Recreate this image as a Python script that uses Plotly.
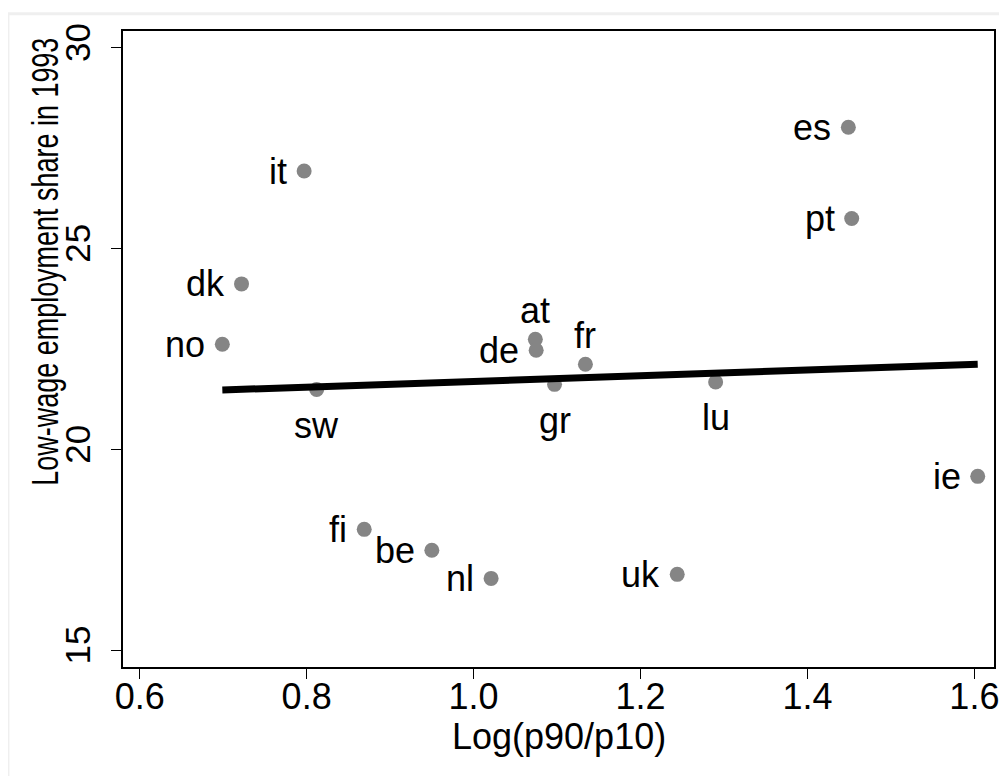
import plotly.graph_objects as go

# ---- data ----
countries = ["it", "dk", "no", "sw", "at", "de", "fr", "gr", "lu",
             "fi", "be", "nl", "uk", "es", "pt", "ie"]
log_p90_p10 = [0.797, 0.722, 0.699, 0.812, 1.074, 1.075, 1.134, 1.097, 1.290,
               0.869, 0.950, 1.021, 1.244, 1.449, 1.453, 1.604]
low_wage_share = [26.93, 24.12, 22.62, 21.49, 22.74, 22.47, 22.12, 21.62, 21.68,
                  18.01, 17.49, 16.79, 16.89, 28.02, 25.75, 19.33]
fit_x = [0.699, 1.604]
fit_y = [21.48, 22.12]
x_ticks = [0.6, 0.8, 1.0, 1.2, 1.4, 1.6]
x_tick_labels = ["0.6", "0.8", "1.0", "1.2", "1.4", "1.6"]
y_ticks = [15, 20, 25, 30]
y_tick_labels = ["15", "20", "25", "30"]
x_title = "Log(p90/p10)"
y_title = "Low-wage employment share in 1993"

# label placement (style)
label_pos = {"sw": "bottom", "gr": "bottom", "lu": "bottom", "at": "top", "fr": "top"}

FONT = "Liberation Sans, Arial, sans-serif"

fig = go.Figure()
fig.add_trace(go.Scatter(
    x=log_p90_p10, y=low_wage_share, mode="markers",
    marker=dict(size=15, color="#858585", line=dict(width=0)),
    showlegend=False, hoverinfo="skip"))
fig.add_trace(go.Scatter(
    x=fit_x, y=fit_y, mode="lines",
    line=dict(color="black", width=7),
    showlegend=False, hoverinfo="skip"))

annotations = []
for c, xv, yv in zip(countries, log_p90_p10, low_wage_share):
    pos = label_pos.get(c, "left")
    a = dict(x=xv, y=yv, xref="x", yref="y", text=c, showarrow=False,
             font=dict(family=FONT, size=36, color="black"), yanchor="middle")
    if pos == "left":
        a.update(xanchor="right", xshift=-15)
    elif pos == "top":
        a.update(xanchor="center", yshift=29)
    else:
        a.update(xanchor="center", yshift=-36)
    annotations.append(a)

# axis titles placed as in the reference
annotations.append(dict(
    text=x_title, xref="paper", yref="paper", x=0.5, y=-0.1085,
    xanchor="center", yanchor="middle", showarrow=False,
    font=dict(family=FONT, size=36, color="black")))
annotations.append(dict(
    text=y_title, textangle=-90,
    xref="paper", yref="paper", x=-0.0852, y=0.638,
    xanchor="center", yanchor="middle", showarrow=False,
    font=dict(family=FONT, size=27, color="black")))

fig.update_layout(
    width=999, height=768,
    margin=dict(l=115, r=8, t=23, b=109),
    paper_bgcolor="white", plot_bgcolor="white",
    font=dict(family=FONT, color="black"),
    annotations=annotations,
    shapes=[dict(type="rect", xref="paper", yref="paper",
                 x0=-0.1321, x1=1.3, y0=-0.5, y1=1.0272,
                 line=dict(color="#efefef", width=3), layer="below")],
    xaxis=dict(
        range=[0.58, 1.6235], tickvals=x_ticks, ticktext=x_tick_labels,
        showgrid=False, zeroline=False, showline=True, mirror=True,
        linecolor="black", linewidth=1.5,
        ticks="outside", ticklen=10, tickwidth=1, tickcolor="black",
        ticklabelstandoff=-13,
        tickfont=dict(family=FONT, size=36, color="black")),
    yaxis=dict(
        range=[14.584, 30.416], tickvals=y_ticks, ticktext=y_tick_labels,
        showgrid=False, zeroline=False, showline=True, mirror=True,
        linecolor="black", linewidth=1.5,
        ticks="outside", ticklen=10, tickwidth=1, tickcolor="black",
        tickangle=-90, ticklabelstandoff=7,
        tickfont=dict(family=FONT, size=35, color="black")),
)

# the reference's y-axis title uses tall, condensed glyphs: keep its length,
# enlarge the glyphs
post = """
var gd = document.getElementById('{plot_id}');
function squeeze() {
  document.querySelectorAll('text.annotation-text').forEach(function (t) {
    if (t.textContent.indexOf('Low-wage') === 0) {
      t.style.fontSize = '36px';
      t.setAttribute('textLength', '448');
      t.setAttribute('lengthAdjust', 'spacingAndGlyphs');
    }
  });
}
squeeze();
if (gd && gd.on) { gd.on('plotly_afterplot', squeeze); }
"""
fig.write_html("out.html", post_script=post)
